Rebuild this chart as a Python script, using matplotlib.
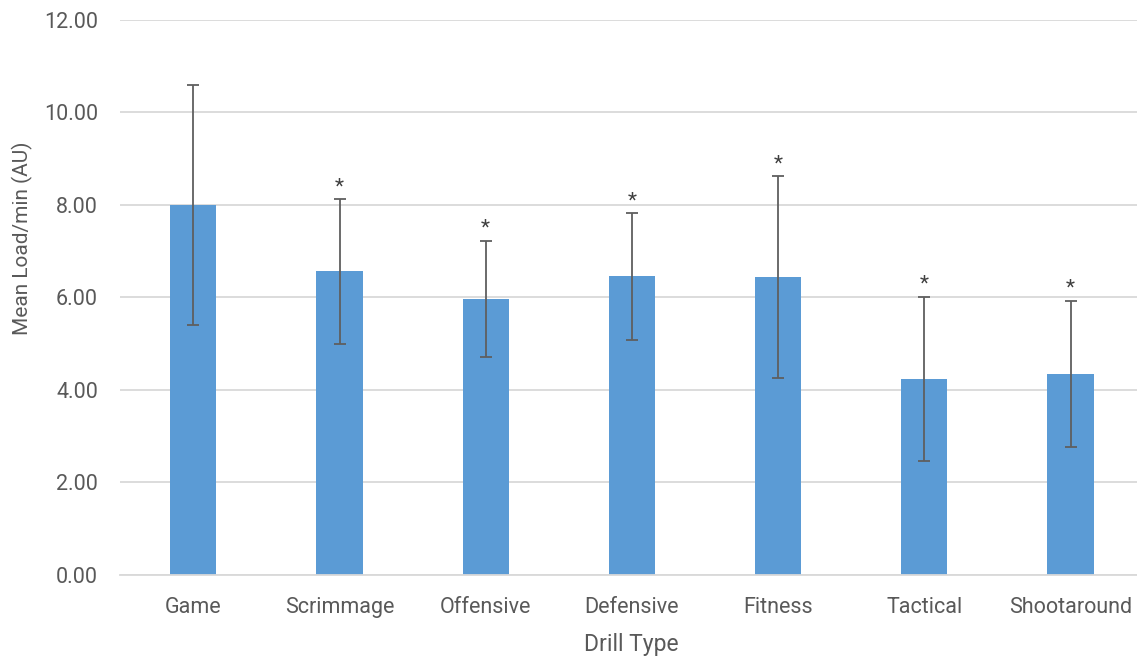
import matplotlib.pyplot as plt
from matplotlib import font_manager

drills = ["Game", "Scrimmage", "Offensive", "Defensive", "Fitness", "Tactical", "Shootaround"]
mean_load = [8.00, 6.56, 5.96, 6.45, 6.44, 4.23, 4.34]
sd_load = [2.59, 1.56, 1.26, 1.37, 2.18, 1.78, 1.58]
significant = [False, True, True, True, True, True, True]
y_ticks = [0, 2, 4, 6, 8, 10, 12]

names = {f.name for f in font_manager.fontManager.ttflist}
fam = ["Liberation Sans Narrow", "DejaVu Sans"] if "Liberation Sans Narrow" in names else ["Roboto", "DejaVu Sans"]
plt.rcParams["font.family"] = fam

text_col = "#595959"
W, H = 1137, 658
fig = plt.figure(figsize=(W / 100, H / 100), dpi=100)
left, bottom, top = 120.2, 574.8, 19.8
ax = fig.add_axes([left / W, (H - bottom) / H, (W - left) / W, (bottom - top) / H])

x = list(range(len(drills)))
ax.bar(x, mean_load, width=0.315, color="#5B9BD5", zorder=2)
ax.errorbar(x, mean_load, yerr=sd_load, fmt="none", ecolor="#5f5f5f",
            elinewidth=1.3, capsize=4.3, capthick=1.3, zorder=3)
for xi, m, s, sig in zip(x, mean_load, sd_load, significant):
    if sig:
        ax.annotate("*", (xi, m + s), xytext=(0, 9), textcoords="offset points",
                    ha="center", va="center", fontsize=15, color="#404040")

ax.set_xlim(-0.5, -0.5 + (W - left) / 146.2)
ax.set_ylim(0, 12)
ax.set_yticks(y_ticks)
ax.set_yticklabels([f"{v:.2f}" for v in y_ticks])
ax.set_xticks(x)
ax.set_xticklabels(drills)
ax.yaxis.grid(True, color="#d9d9d9", linewidth=1.3, zorder=0)
ax.set_axisbelow(True)
for side in ["top", "right", "left"]:
    ax.spines[side].set_visible(False)
ax.spines["bottom"].set_color("#d9d9d9")
ax.spines["bottom"].set_linewidth(1.3)
ax.tick_params(axis="both", length=0, labelsize=15.5, labelcolor=text_col)
ax.tick_params(axis="x", pad=16)
ax.tick_params(axis="y", pad=16)

ax.set_xlabel("Drill Type", fontsize=16.5, color=text_col, va="center")
ax.set_ylabel("Mean Load/min (AU)", fontsize=15, color=text_col, va="center")
ax.xaxis.set_label_coords(0.503, -(645 - bottom) / (bottom - top))
ax.yaxis.set_label_coords(-(left - 22) / (W - left), (bottom - 238) / (bottom - top))

fig.savefig("out.png", dpi=100)
